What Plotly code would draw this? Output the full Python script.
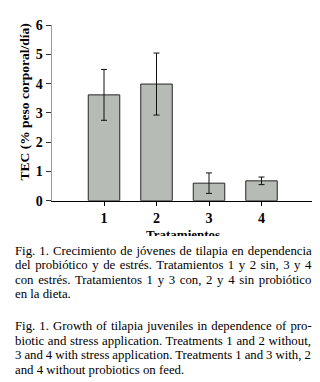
import plotly.graph_objects as go

categories = ["1", "2", "3", "4"]
tec_values = [3.62, 3.99, 0.60, 0.68]
tec_errors = [0.87, 1.06, 0.35, 0.13]

caption_es = [
    "Fig. 1. Crecimiento de jóvenes de tilapia en dependencia",
    "del probiótico y de estrés. Tratamientos 1 y 2 sin, 3 y 4",
    "con estrés. Tratamientos 1 y 3 con, 2 y 4 sin probiótico",
    "en la dieta.",
]
caption_en = [
    "Fig. 1. Growth of tilapia juveniles in dependence of pro-",
    "biotic and stress application. Treatments 1 and 2 without,",
    "3 and 4 with stress application. Treatments 1 and 3 with, 2",
    "and 4 without probiotics on feed.",
]

W, H = 320, 382
SERIF = "Liberation Serif"
CAP_SIZE = 12.8
TEXT_LEFT, TEXT_RIGHT = 7, 314
WIDTH_FACTOR = 1.035  # rendered glyphs run a little wider than the AFM metrics

# Times-Roman advance widths (per 1000 em) used to justify the caption lines
_TW = {' ': 250, '.': 250, ',': 250, '-': 333, '/': 278, '(': 333, ')': 333}
_TW.update({d: 500 for d in "0123456789"})
_TW.update(dict(zip("ABCDEFGHIJKLMNOPQRSTUVWXYZ",
    [722, 667, 667, 722, 611, 556, 722, 722, 333, 389, 722, 611, 889, 722,
     722, 556, 722, 667, 556, 611, 722, 722, 944, 722, 722, 611])))
_TW.update(dict(zip("abcdefghijklmnopqrstuvwxyz",
    [444, 500, 444, 500, 444, 333, 500, 500, 278, 278, 500, 278, 778, 500,
     500, 500, 500, 333, 389, 278, 500, 500, 722, 500, 500, 444])))
_TW.update({'ó': 500, 'é': 444, 'í': 278, 'á': 444})


def text_width(s):
    return sum(_TW.get(c, 500) for c in s) * CAP_SIZE / 1000.0 * WIDTH_FACTOR


fig = go.Figure()
fig.add_trace(go.Bar(
    x=[1, 2, 3, 4], y=tec_values,
    width=0.6,
    marker=dict(color="#b6bbb6", line=dict(color="#262626", width=1)),
    error_y=dict(type="data", array=tec_errors, visible=True,
                 color="#111111", thickness=1, width=3),
))

fig.update_layout(
    width=W, height=H,
    margin=dict(l=0, r=0, t=0, b=0),
    paper_bgcolor="white", plot_bgcolor="white",
    showlegend=False,
    font=dict(family=SERIF, color="black"),
    xaxis=dict(domain=[43.5 / W, 306 / W], range=[0, 5],
               tickvals=[1, 2, 3, 4], ticktext=categories,
               showline=True, linecolor="black", linewidth=1,
               ticks="outside", ticklen=4, tickcolor="black",
               tickfont=dict(size=14, family=SERIF, weight="bold"),
               showgrid=False, zeroline=False, fixedrange=True),
    yaxis=dict(domain=[1 - 193.3 / H, 1 - 10.7 / H], range=[0, 6], dtick=1,
               showline=True, linecolor="#9a9a9a", linewidth=1,
               ticks="outside", ticklen=5, tickcolor="#333",
               tickfont=dict(size=14, family=SERIF, weight="bold"),
               showgrid=False, zeroline=False, fixedrange=True),
)

fig.add_annotation(text="<b>TEC (% peso corporal/día)</b>", textangle=-90,
                   xref="paper", yref="paper", x=16 / W, y=1 - 91 / H,
                   xanchor="center", yanchor="middle", showarrow=False,
                   font=dict(size=13.5, family=SERIF))
fig.add_annotation(text="<b>Tratamientos</b>",
                   xref="paper", yref="paper", x=175 / W, y=1 - 228 / H,
                   xanchor="center", yanchor="middle", showarrow=False,
                   font=dict(size=13, family=SERIF))
# the caption block covers the lower part of the axis title, as in the source
fig.add_annotation(text=" ", xref="paper", yref="paper",
                   x=175 / W, y=1 - 230.5 / H, xanchor="center", yanchor="top",
                   width=90, height=7, bgcolor="white", borderpad=0,
                   borderwidth=0, showarrow=False, font=dict(size=4))


def add_paragraph(lines, y0):
    for i, line in enumerate(lines):
        last = i == len(lines) - 1
        n_spaces = line.count(" ")
        text = line
        if not last and n_spaces:
            extra = (TEXT_RIGHT - TEXT_LEFT - text_width(line)) / n_spaces
            text = f'<span style="word-spacing:{extra:.2f}px">{line}</span>'
        fig.add_annotation(text=text, xref="paper", yref="paper",
                           x=TEXT_LEFT / W, y=1 - (y0 + 15 * i) / H,
                           xanchor="left", yanchor="middle", showarrow=False,
                           borderpad=0, borderwidth=0,
                           font=dict(size=CAP_SIZE, family=SERIF))


add_paragraph(caption_es, 245.5)
add_paragraph(caption_en, 324)

fig.write_html("out.html")
